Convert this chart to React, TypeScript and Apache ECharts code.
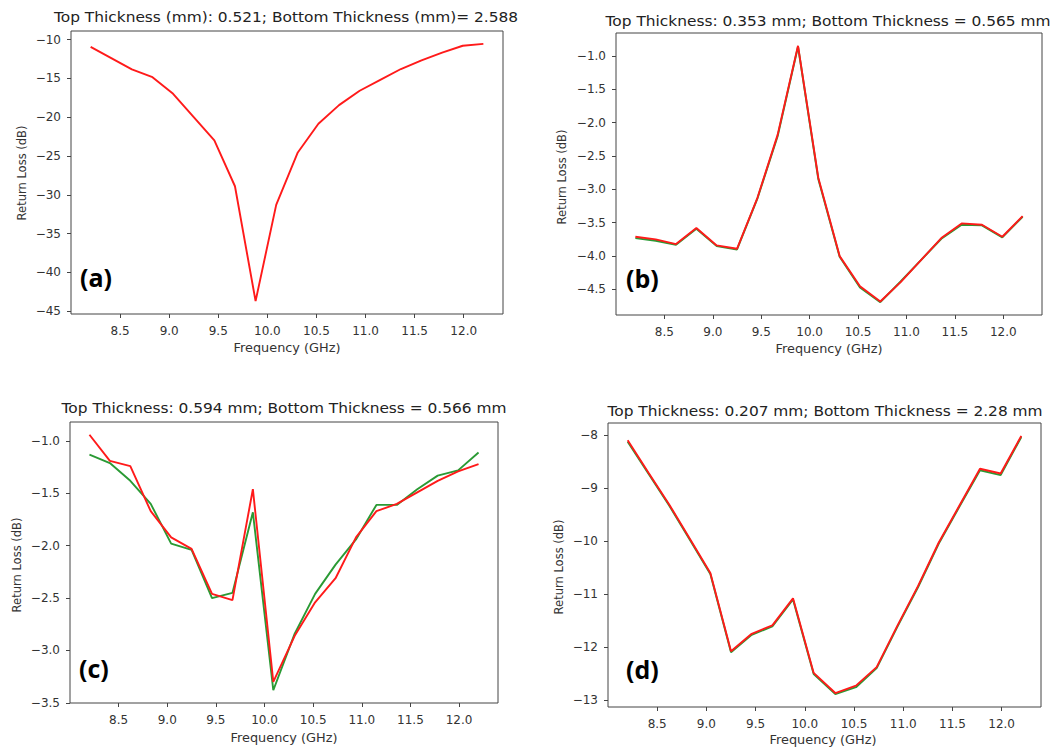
import React, { useEffect, useRef } from "react";
import * as echarts from "echarts";

// ---------- data ----------
const freq = [8.2, 8.41, 8.62, 8.83, 9.04, 9.25, 9.46, 9.67, 9.88, 10.09, 10.31, 10.52, 10.73, 10.94, 11.15, 11.36, 11.57, 11.78, 11.99, 12.2];
const xTicks = [8.5, 9.0, 9.5, 10.0, 10.5, 11.0, 11.5, 12.0];

const redA = [-10.95, -12.4, -13.85, -14.85, -17.0, -20.0, -23.0, -28.9, -43.7, -31.3, -24.55, -20.85, -18.45, -16.6, -15.2, -13.8, -12.7, -11.7, -10.8, -10.56];

const greenB = [-3.73, -3.77, -3.83, -3.59, -3.85, -3.9, -3.14, -2.2, -0.86, -2.85, -4.01, -4.47, -4.69, -4.38, -4.06, -3.74, -3.53, -3.54, -3.72, -3.41];
const redB = [-3.71, -3.75, -3.82, -3.58, -3.84, -3.89, -3.13, -2.18, -0.85, -2.83, -4.0, -4.45, -4.68, -4.39, -4.06, -3.73, -3.51, -3.53, -3.71, -3.4];

const greenC = [-1.13, -1.21, -1.38, -1.6, -1.98, -2.04, -2.5, -2.45, -1.68, -3.38, -2.84, -2.46, -2.18, -1.94, -1.61, -1.61, -1.46, -1.33, -1.28, -1.11];
const redC = [-0.94, -1.19, -1.24, -1.67, -1.92, -2.03, -2.46, -2.52, -1.46, -3.3, -2.86, -2.54, -2.31, -1.92, -1.67, -1.6, -1.49, -1.38, -1.29, -1.22];

const greenD = [-8.12, -8.72, -9.32, -9.97, -10.62, -12.1, -11.77, -11.61, -11.1, -12.51, -12.89, -12.76, -12.4, -11.62, -10.87, -10.05, -9.35, -8.66, -8.75, -8.03];
const redD = [-8.09, -8.7, -9.3, -9.95, -10.6, -12.08, -11.75, -11.59, -11.08, -12.49, -12.87, -12.73, -12.38, -11.6, -10.85, -10.03, -9.33, -8.63, -8.72, -8.01];

const yTicksA = [-10, -15, -20, -25, -30, -35, -40, -45];
const yTicksB = [-1.0, -1.5, -2.0, -2.5, -3.0, -3.5, -4.0, -4.5];
const yTicksC = [-1.0, -1.5, -2.0, -2.5, -3.0, -3.5];
const yTicksD = [-8, -9, -10, -11, -12, -13];

const titles = [
  "Top Thickness (mm): 0.521; Bottom Thickness (mm)= 2.588",
  "Top Thickness: 0.353 mm; Bottom Thickness = 0.565 mm",
  "Top Thickness: 0.594 mm; Bottom Thickness = 0.566 mm",
  "Top Thickness: 0.207 mm; Bottom Thickness = 2.28 mm",
];
const panelLabels = ["(a)", "(b)", "(c)", "(d)"];
const xName = "Frequency (GHz)";
const yName = "Return Loss (dB)";

// ---------- layout ----------
const panels = [
  { grid: { left: 71, top: 31, width: 432, height: 283 }, title: [286, 17], xn: [287, 348], yn: [22, 173], lab: [80, 277], series: [{ d: redA, c: "red" }], yTicks: yTicksA, dec: 0 },
  { grid: { left: 616, top: 33, width: 426, height: 282 }, title: [828, 21], xn: [829, 349], yn: [562, 177], lab: [626, 278], series: [{ d: greenB, c: "green" }, { d: redB, c: "red" }], yTicks: yTicksB, dec: 1 },
  { grid: { left: 70, top: 422, width: 428, height: 281 }, title: [284, 408], xn: [284, 738], yn: [17, 565], lab: [79, 668], series: [{ d: greenC, c: "green" }, { d: redC, c: "red" }], yTicks: yTicksC, dec: 1 },
  { grid: { left: 608, top: 423, width: 433, height: 284 }, title: [825, 411], xn: [823, 740], yn: [559, 567], lab: [626, 669], series: [{ d: greenD, c: "green" }, { d: redD, c: "red" }], yTicks: yTicksD, dec: 0 },
];

const RED = "#ff1a1a";
const GREEN = "#2a9a34";
const TXT = "#333333";
const FONT = "DejaVu Sans";

function fmt(v: number, d: number) {
  return v.toFixed(d).replace("-", "\u2212");
}

function padExtent(arrs: number[][]) {
  const all = arrs.flat();
  const mn = Math.min(...all);
  const mx = Math.max(...all);
  const r = mx - mn;
  return [mn - 0.05 * r, mx + 0.05 * r];
}

export default function App() {
  const ref = useRef<HTMLDivElement>(null);
  useEffect(() => {
    if (!ref.current) return;
    const chart = echarts.init(ref.current, undefined, { renderer: "svg" });
    const grids: any[] = [];
    const xAxes: any[] = [];
    const yAxes: any[] = [];
    const series: any[] = [];
    const graphics: any[] = [];
    const span = freq[freq.length - 1] - freq[0];
    const xExt = [freq[0] - 0.05 * span, freq[freq.length - 1] + 0.05 * span];

    panels.forEach((p, i) => {
      grids.push({ ...p.grid, show: true, borderColor: "#444", borderWidth: 1, backgroundColor: "transparent", containLabel: false });
      xAxes.push({
        type: "value",
        gridIndex: i,
        min: xExt[0],
        max: xExt[1],
        axisLine: { show: false },
        splitLine: { show: false },
        axisTick: { show: true, length: 4, lineStyle: { color: "#444" }, customValues: xTicks },
        axisLabel: { color: TXT, fontFamily: FONT, fontSize: 12, margin: 11, customValues: xTicks, formatter: (v: number) => fmt(v, 1) },
      });
      const ext = padExtent(p.series.map((s) => s.d));
      const dec = p.dec;
      yAxes.push({
        type: "value",
        gridIndex: i,
        min: ext[0],
        max: ext[1],
        axisLine: { show: false },
        splitLine: { show: false },
        axisTick: { show: true, length: 4, lineStyle: { color: "#444" }, customValues: p.yTicks },
        axisLabel: { color: TXT, fontFamily: FONT, fontSize: 12, margin: 10, customValues: p.yTicks, formatter: (v: number) => fmt(v, dec) },
      });
      p.series.forEach((s) => {
        series.push({
          type: "line",
          xAxisIndex: i,
          yAxisIndex: i,
          data: freq.map((f, k) => [f, s.d[k]]),
          showSymbol: false,
          symbol: "none",
          lineStyle: { color: s.c === "red" ? RED : GREEN, width: 1.9 },
          z: s.c === "red" ? 3 : 2,
        });
      });
      graphics.push({
        type: "text", x: p.title[0], y: p.title[1], scaleX: 1.1,
        style: { text: titles[i], fill: "#222", font: `14px "${FONT}"`, textAlign: "center", textVerticalAlign: "middle" },
      });
      graphics.push({
        type: "text", x: p.xn[0], y: p.xn[1], scaleX: 1.12,
        style: { text: xName, fill: TXT, font: `11.5px "${FONT}"`, textAlign: "center", textVerticalAlign: "middle" },
      });
      graphics.push({
        type: "text", x: p.yn[0], y: p.yn[1], rotation: Math.PI / 2,
        style: { text: yName, fill: TXT, font: `11.5px "${FONT}"`, textAlign: "center", textVerticalAlign: "middle" },
      });
      graphics.push({
        type: "text", x: p.lab[0], y: p.lab[1],
        style: { text: panelLabels[i], fill: "#000", font: `bold 25px "Open Sans"`, textAlign: "left", textVerticalAlign: "middle" },
      });
    });

    chart.setOption({
      animation: false,
      backgroundColor: "#ffffff",
      grid: grids,
      xAxis: xAxes,
      yAxis: yAxes,
      series,
      graphic: graphics,
    });
    return () => chart.dispose();
  }, []);
  return <div ref={ref} style={{ position: "fixed", left: 0, top: 0, width: 1059, height: 752 }} />;
}
